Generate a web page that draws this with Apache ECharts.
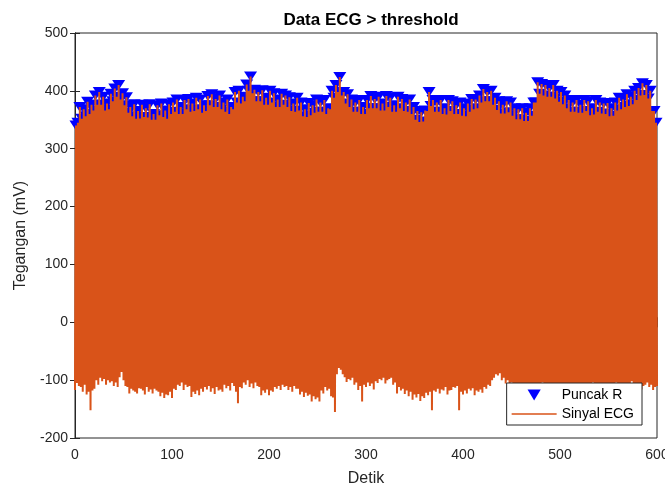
<!DOCTYPE html>
<html>
<head>
<meta charset="utf-8">
<script src="https://cdn.jsdelivr.net/npm/echarts@6/dist/echarts.min.js"></script>
<style>
html, body { margin: 0; padding: 0; background: #fff; }
#chart { width: 665px; height: 488px; }
</style>
</head>
<body>
<div id="chart"></div>
<script>
// tall R peaks, one every 4 s starting at t = 1 (mV)
var peakStart = 1, beatStep = 4;
var peakVal = [
    340, 372, 368, 381, 376, 392, 398, 390, 378, 395,
    404, 410, 396, 389, 372, 377, 365, 376, 370, 377,
    360, 375, 378, 366, 377, 380, 385, 372, 384, 386,
    378, 388, 385, 375, 391, 394, 386, 392, 380, 385,
    372, 398, 400, 390, 411, 425, 402, 398, 401, 388,
    400, 396, 385, 395, 392, 389, 378, 388, 380, 368,
    379, 375, 385, 380, 384, 370, 400, 410, 424, 398,
    394, 385, 380, 384, 372, 384, 391, 386, 390, 378,
    391, 388, 375, 390, 386, 380, 385, 372, 365, 363,
    366, 398, 384, 380, 384, 370, 384, 382, 375, 380,
    370, 378, 386, 385, 392, 403, 398, 400, 388, 382,
    376, 382, 380, 370, 368, 370, 362, 370, 380, 415,
    412, 410, 405, 410, 400, 398, 392, 384, 380, 384,
    376, 384, 382, 370, 384, 380, 378, 379, 370, 380,
    388, 385, 394, 390, 400, 405, 413, 410, 400, 365
];
// lower R peaks in between, starting at t = 3 (mV)
var minorStart = 3;
var minorPeakVal = [
    345, 352, 356, 360, 366, 376, 376, 366, 368, 382,
    390, 385, 375, 362, 356, 352, 352, 355, 354, 350,
    350, 358, 355, 352, 360, 364, 360, 360, 368, 364,
    365, 368, 362, 365, 375, 372, 372, 368, 364, 360,
    368, 380, 378, 382, 400, 396, 382, 382, 376, 376,
    380, 372, 372, 376, 372, 365, 364, 366, 356, 355,
    358, 362, 364, 364, 360, 368, 388, 398, 392, 378,
    372, 364, 364, 360, 360, 370, 370, 370, 366, 366,
    372, 364, 364, 370, 365, 364, 360, 350, 346, 347,
    365, 374, 364, 364, 360, 359, 365, 360, 360, 357,
    356, 364, 368, 370, 380, 382, 382, 376, 367, 361,
    361, 363, 357, 351, 351, 348, 348, 357, 380, 395,
    392, 390, 390, 387, 381, 377, 370, 364, 364, 362,
    362, 365, 358, 359, 364, 361, 360, 356, 357, 366,
    368, 372, 374, 377, 384, 392, 393, 387, 365, 345
];
// lowest points before each tall peak, t = 0, 4, 8 ... 600 (mV)
var troughStart = 0;
var troughVal = [
    -117, -110, -120, -125, -152, -115, -108, -102, -108, -104,
    -110, -112, -86, -110, -123, -118, -123, -115, -125, -120,
    -123, -118, -128, -131, -126, -131, -117, -110, -117, -112,
    -129, -124, -126, -120, -116, -120, -124, -118, -120, -114,
    -118, -110, -140, -114, -108, -112, -114, -110, -126, -122,
    -126, -120, -115, -117, -112, -117, -120, -115, -125, -129,
    -127, -137, -133, -137, -123, -118, -128, -155, -79, -90,
    -103, -100, -108, -117, -137, -112, -110, -116, -105, -100,
    -106, -98, -108, -123, -118, -124, -128, -134, -130, -136,
    -131, -126, -152, -120, -123, -118, -125, -117, -113, -152,
    -125, -123, -118, -126, -120, -122, -115, -110, -96, -92,
    -100, -106, -112, -108, -115, -110, -118, -112, -120, -114,
    -108, -112, -116, -110, -118, -113, -120, -115, -110, -117,
    -112, -120, -114, -108, -116, -112, -110, -118, -115, -108,
    -112, -117, -110, -106, -114, -110, -116, -108, -112, -117,
    -110
];
// lowest points before each lower peak, t = 2, 6, 10 ... (mV)
var midTroughStart = 2;
var midTroughVal = [
    -105, -112, -108, -120, -118, -100, -96, -98, -100, -102,
    -104, -95, -100, -112, -115, -120, -114, -118, -112, -116,
    -115, -120, -122, -125, -120, -115, -108, -104, -108, -110,
    -120, -118, -115, -112, -110, -114, -112, -116, -108, -110,
    -105, -120, -112, -104, -100, -106, -104, -112, -118, -116,
    -118, -112, -110, -108, -110, -112, -110, -115, -120, -122,
    -125, -128, -130, -118, -112, -115, -130, -90, -82, -95,
    -98, -96, -104, -110, -108, -104, -106, -102, -98, -96,
    -100, -96, -104, -112, -115, -118, -120, -125, -124, -128,
    -122, -120, -118, -115, -116, -112, -118, -112, -110, -120,
    -118, -115, -114, -118, -116, -112, -108, -100, -90, -88,
    -96, -100, -104, -106, -108, -108, -110, -106, -112, -108,
    -104, -108, -110, -106, -112, -108, -112, -110, -106, -110,
    -108, -112, -108, -104, -110, -108, -106, -112, -110, -104,
    -108, -110, -106, -102, -108, -106, -110, -104, -108, -112
];
var xTicks = [0, 100, 200, 300, 400, 500, 600];
var yTicks = [-200, -100, 0, 100, 200, 300, 400, 500];

// signal: trough, tall peak, trough, lower peak, ...
var ecg = [];
var peaks = [];
for (var j = 0; j < troughVal.length; j++) {
    ecg.push([troughStart + j * beatStep, troughVal[j]]);
    if (j < peakVal.length) {
        var p1 = [peakStart + j * beatStep, peakVal[j]];
        var p2 = [minorStart + j * beatStep, minorPeakVal[j]];
        ecg.push(p1);
        ecg.push([midTroughStart + j * beatStep, midTroughVal[j]]);
        ecg.push(p2);
        peaks.push(p1, p2);
    }
}

var axisColor = '#262626';
var font = 'Liberation Sans, Arial, sans-serif';

var myChart = echarts.init(document.getElementById('chart'));

var option = {
    animation: false,
    title: {
        text: 'Data ECG > threshold',
        left: 366,
        top: 7,
        textAlign: 'center',
        textStyle: {fontFamily: font, fontSize: 17, fontWeight: 'bold', color: '#000'}
    },
    grid: {
        left: 75, right: 8, top: 33, bottom: 50,
        outerBoundsMode: 'none',
        show: true, borderColor: axisColor, borderWidth: 1, backgroundColor: '#fff'
    },
    legend: {
        orient: 'vertical',
        right: 23,
        bottom: 63,
        backgroundColor: '#fff',
        borderColor: axisColor,
        borderWidth: 1,
        borderRadius: 0,
        padding: [5, 8, 4, 5],
        itemGap: 5,
        itemWidth: 45,
        itemHeight: 11,
        align: 'left',
        symbolKeepAspect: true,
        textStyle: {fontFamily: font, fontSize: 14, color: '#000'},
        data: [
            {name: 'Puncak R', icon: 'path://M0,0 L12,0 L6,10 Z', itemStyle: {color: '#0000FF'}},
            {name: 'Sinyal ECG', icon: 'path://M0,0 L45,0 L45,1.3 L0,1.3 Z', itemStyle: {color: '#D95319', borderWidth: 0}}
        ]
    },
    xAxis: [{
        type: 'value',
        min: xTicks[0], max: xTicks[xTicks.length - 1], interval: 100,
        name: 'Detik',
        nameLocation: 'middle',
        nameGap: 33,
        nameTextStyle: {fontFamily: font, fontSize: 16, color: axisColor},
        axisLine: {lineStyle: {color: axisColor}},
        axisTick: {inside: true, length: 5, lineStyle: {color: axisColor}},
        axisLabel: {fontFamily: font, fontSize: 14, color: axisColor, margin: 10},
        splitLine: {show: false}
    }, {
        type: 'value', position: 'top',
        min: 0, max: 600, interval: 100,
        axisLine: {lineStyle: {color: axisColor}},
        axisTick: {inside: true, length: 5, lineStyle: {color: axisColor}},
        axisLabel: {show: false},
        splitLine: {show: false}
    }],
    yAxis: [{
        type: 'value',
        min: yTicks[0], max: yTicks[yTicks.length - 1], interval: 100,
        name: 'Tegangan (mV)',
        nameLocation: 'middle',
        nameGap: 42,
        nameTextStyle: {fontFamily: font, fontSize: 16, color: axisColor},
        axisLine: {show: true, lineStyle: {color: axisColor}},
        axisTick: {show: true, inside: true, length: 5, lineStyle: {color: axisColor}},
        axisLabel: {fontFamily: font, fontSize: 14, color: axisColor, margin: 7},
        splitLine: {show: false}
    }, {
        type: 'value', position: 'right',
        min: -200, max: 500, interval: 100,
        axisLine: {show: true, lineStyle: {color: axisColor}},
        axisTick: {show: true, inside: true, length: 5, lineStyle: {color: axisColor}},
        axisLabel: {show: false},
        splitLine: {show: false}
    }],
    series: [{
        name: 'Puncak R',
        type: 'scatter',
        data: peaks,
        symbol: 'triangle',
        symbolRotate: 180,
        symbolSize: [13, 10],
        itemStyle: {color: '#0000FF', opacity: 1}
    }, {
        name: 'Sinyal ECG',
        type: 'line',
        data: ecg,
        symbol: 'none',
        sampling: 'none',
        lineStyle: {color: '#D95319', width: 2, join: 'bevel'},
        itemStyle: {color: '#D95319'}
    }]
};

myChart.setOption(option);
</script>
</body>
</html>
